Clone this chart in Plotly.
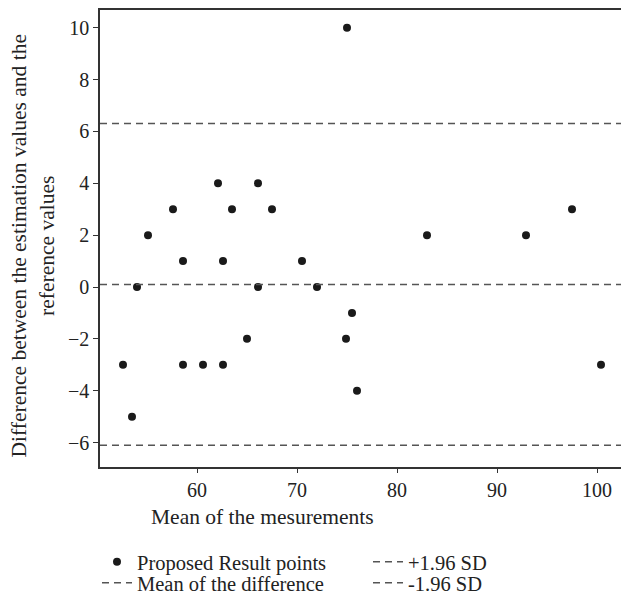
import plotly.graph_objects as go

# Data
mean_x = [75.0, 62.1, 66.1, 57.6, 63.5, 67.5, 97.5, 55.1, 83.0, 92.9,
          58.6, 62.6, 70.5, 54.0, 66.1, 72.0, 75.5, 65.0, 74.9, 52.6,
          58.6, 60.6, 62.6, 100.4, 76.0, 53.5]
diff_y = [10, 4, 4, 3, 3, 3, 3, 2, 2, 2,
          1, 1, 1, 0, 0, 0, -1, -2, -2, -3,
          -3, -3, -3, -3, -4, -5]
mean_diff = 0.1
upper_sd = 6.3
lower_sd = -6.1
x_range = [50.3, 102.4]
y_range = [-6.94, 10.68]
x_ticks = [60, 70, 80, 90, 100]
y_ticks = [-6, -4, -2, 0, 2, 4, 6, 8, 10]
x_title = "Mean of the mesurements"
y_title = "Difference between the estimation values and the<br>reference values"

FONT = "Liberation Serif, Times New Roman, serif"
TEXT_COLOR = "#222222"
LINE_COLOR = "#555555"
DASH = "7px,5px"

fig = go.Figure()
fig.add_trace(go.Scatter(x=mean_x, y=diff_y, mode="markers", name="Proposed Result points",
                         marker=dict(color="#1a1a1a", size=8), legend="legend"))
fig.add_trace(go.Scatter(x=x_range, y=[upper_sd, upper_sd], mode="lines", name="+1.96 SD",
                         line=dict(color=LINE_COLOR, dash=DASH, width=1.5), legend="legend"))
fig.add_trace(go.Scatter(x=x_range, y=[mean_diff, mean_diff], mode="lines", name="Mean of the difference",
                         line=dict(color=LINE_COLOR, dash=DASH, width=1.5), legend="legend2"))
fig.add_trace(go.Scatter(x=x_range, y=[lower_sd, lower_sd], mode="lines", name="-1.96 SD",
                         line=dict(color=LINE_COLOR, dash=DASH, width=1.5), legend="legend2"))

# paper spans x = 40..621 px (plot area starts at 100 px via the axis domain)
legend_common = dict(orientation="h", xanchor="left", yanchor="middle", x=0.0981,
                     entrywidth=226, entrywidthmode="pixels",
                     font=dict(family=FONT, size=20.5, color=TEXT_COLOR),
                     bgcolor="rgba(0,0,0,0)", itemclick=False, itemdoubleclick=False)

fig.update_layout(
    width=621, height=598,
    margin=dict(l=40, r=0, t=10, b=131, autoexpand=False),
    paper_bgcolor="white", plot_bgcolor="white",
    font=dict(family=FONT, size=20, color=TEXT_COLOR),
    showlegend=True,
    legend=dict(y=-0.2079, **legend_common),
    legend2=dict(y=-0.2538, **legend_common),
    xaxis=dict(domain=[60 / 581, 1], range=x_range, tickvals=x_ticks, showgrid=False, zeroline=False,
               showline=True, linecolor="#333", linewidth=1.5, mirror=True,
               ticks="outside", ticklen=4, tickcolor="#333",
               tickfont=dict(size=20)),
    yaxis=dict(range=y_range, tickvals=y_ticks, showgrid=False, zeroline=False,
               showline=True, linecolor="#333", linewidth=1.5,
               ticks="outside", ticklen=5, tickcolor="#333",
               tickfont=dict(size=20)),
    annotations=[
        dict(text=x_title, xref="paper", yref="paper", x=0.3821, y=-0.1094,
             xanchor="center", yanchor="middle", showarrow=False,
             font=dict(family=FONT, size=21.5, color=TEXT_COLOR)),
        dict(text=y_title, xref="paper", yref="paper", x=-0.0112, y=0.4836,
             xanchor="center", yanchor="middle", showarrow=False, textangle=-90,
             font=dict(family=FONT, size=21.5, color=TEXT_COLOR)),
    ],
)

fig.write_html("out.html")
